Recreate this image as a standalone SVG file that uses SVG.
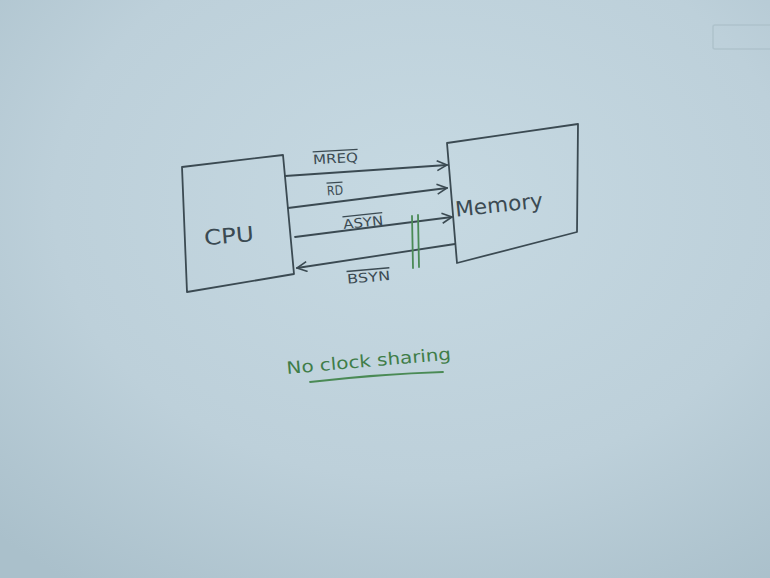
<svg xmlns="http://www.w3.org/2000/svg" width="770" height="578" viewBox="0 0 770 578">
<defs>
<radialGradient id="bg" cx="0.55" cy="0.35" r="0.8">
<stop offset="0" stop-color="#c6d9e2"/>
<stop offset="0.6" stop-color="#bdd0da"/>
<stop offset="1" stop-color="#aac0cb"/>
</radialGradient>
<marker id="ah" viewBox="0 0 12 12" refX="11" refY="6" markerWidth="12" markerHeight="12" markerUnits="userSpaceOnUse" orient="auto">
<path d="M1,1 L11,6 L1,11" fill="none" stroke="#3b4a52" stroke-width="1.6"/>
</marker>
<style>
.ink{fill:none;stroke:#3b4a52;stroke-width:1.8;stroke-linejoin:round;stroke-linecap:round}
.lbl{font-family:"DejaVu Sans",sans-serif;font-size:13px;fill:#3b4a52;text-decoration:overline}
.big{font-family:"DejaVu Sans",sans-serif;font-size:21px;fill:#3b4a52}
.grn{stroke:#4a8a55;stroke-width:1.8;fill:none;stroke-linecap:round}
.gtxt{font-family:"DejaVu Sans",sans-serif;font-size:17px;fill:#3f7d48}
</style>
</defs>
<rect width="770" height="578" fill="url(#bg)"/>
<rect x="713" y="25" width="60" height="24" rx="2" fill="none" stroke="#aec2cc" stroke-width="1.5"/>
<g id="cpu">
<path class="ink" d="M182,167 L283,155 L294,274 L187,292 Z"/>
<text class="big" x="204" y="243" textLength="50" lengthAdjust="spacingAndGlyphs" transform="rotate(-5 230 236)">CPU</text>
</g>
<g id="memory">
<path class="ink" d="M447,143 L578,124 L577,232 L457,263 Z"/>
<text class="big" x="455" y="212" textLength="88" lengthAdjust="spacingAndGlyphs" transform="rotate(-6 500 205)">Memory</text>
</g>
<g id="connectors">
<path class="ink" d="M285,176 L447,165" marker-end="url(#ah)"/>
<path class="ink" d="M288,208 L447,188" marker-end="url(#ah)"/>
<path class="ink" d="M295,237 L452,217" marker-end="url(#ah)"/>
<path class="ink" d="M455,244 L297,268" marker-end="url(#ah)"/>
<line class="grn" x1="412" y1="216" x2="413" y2="268"/>
<line class="grn" x1="418" y1="215" x2="419" y2="267"/>
</g>
<g id="labels">
<text class="lbl" x="313" y="163" textLength="45" lengthAdjust="spacingAndGlyphs" transform="rotate(-3 335 158)">MREQ</text>
<text class="lbl" x="327" y="195" textLength="16" lengthAdjust="spacingAndGlyphs" transform="rotate(-4 335 190)">RD</text>
<text class="lbl" x="343" y="227" textLength="40" lengthAdjust="spacingAndGlyphs" transform="rotate(-6 363 221)">ASYN</text>
<text class="lbl" x="347" y="282" textLength="43" lengthAdjust="spacingAndGlyphs" transform="rotate(-5 368 276)">BSYN</text>
</g>
<g id="note">
<text class="gtxt" x="286" y="367" textLength="165" lengthAdjust="spacingAndGlyphs" transform="rotate(-5 366 358)">No clock sharing</text>
<path class="grn" d="M310,382 Q380,374 443,372"/>
</g>
</svg>
